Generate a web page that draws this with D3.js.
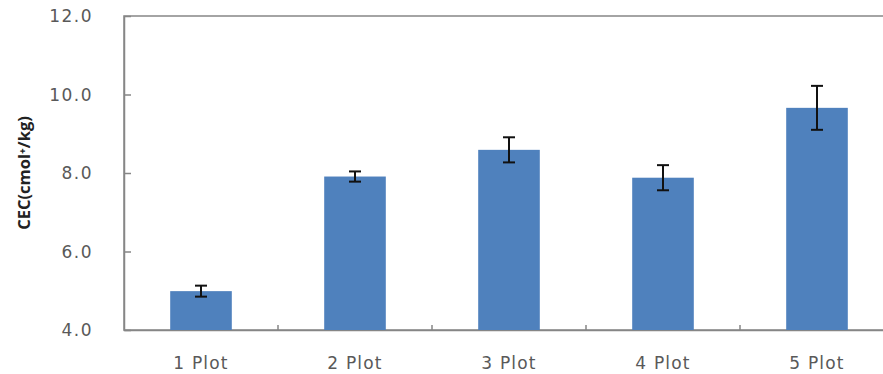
<!DOCTYPE html>
<html><head><meta charset="utf-8">
<script src="https://cdn.jsdelivr.net/npm/d3@7/dist/d3.min.js"></script>
<style>body{margin:0;background:#fff}</style>
</head><body>
<svg id="c" width="883" height="374"></svg>
<script>
const categories = ["1 Plot","2 Plot","3 Plot","4 Plot","5 Plot"];
const values = [4.99, 7.91, 8.59, 7.88, 9.66];
const errors = [0.14, 0.13, 0.32, 0.32, 0.56];
const yTicks = [4, 6, 8, 10, 12];

const svg = d3.select("#c");
const L = 124, R = 894, T = 16, B = 330;
const x = d3.scaleBand().domain(categories).range([L, R]).paddingInner(0.6).paddingOuter(0.3);
const y = d3.scaleLinear().domain([4, 12]).range([B, T]);
const axisColor = "#868686";
const labelFont = "Verdana, 'DejaVu Sans', sans-serif";

// plot border
svg.append("rect").attr("x", L).attr("y", T).attr("width", R - L).attr("height", B - T)
  .attr("fill", "none").attr("stroke", axisColor).attr("stroke-width", 1.5);

// y axis
const ya = svg.append("g").attr("transform", `translate(${L},0)`)
  .call(d3.axisRight(y).tickValues(yTicks).tickSize(7).tickFormat(d3.format(".1f")));
ya.select(".domain").attr("stroke", axisColor).attr("stroke-width", 1.5);
ya.selectAll(".tick line").attr("stroke", axisColor).attr("stroke-width", 1.5);
ya.selectAll(".tick text").attr("x", -31).attr("text-anchor", "end")
  .attr("fill", "#595959").attr("font-family", labelFont)
  .attr("font-size", 17).attr("letter-spacing", 1.5).attr("dy", "0.35em");
ya.selectAll(".tick").filter(d => d === 4 || d === 12).select("line").remove();

// x axis
const xa = svg.append("g").attr("transform", `translate(0,${B})`)
  .call(d3.axisBottom(x).tickSize(0).tickPadding(27));
xa.select(".domain").attr("stroke", axisColor).attr("stroke-width", 1.5);
xa.selectAll(".tick text").attr("fill", "#595959")
  .attr("font-family", labelFont).attr("font-size", 17).attr("letter-spacing", 1.2)
  .attr("dy", "0.71em");
// category separators (ticks pointing inward)
const seps = d3.range(1, categories.length).map(i => L + (R - L) * i / categories.length);
svg.append("g").selectAll("line").data(seps).join("line")
  .attr("x1", d => d).attr("x2", d => d).attr("y1", B).attr("y2", B - 5)
  .attr("stroke", axisColor).attr("stroke-width", 1.5);

// bars
svg.append("g").selectAll("rect").data(categories).join("rect")
  .attr("x", d => x(d)).attr("width", x.bandwidth())
  .attr("y", (d, i) => y(values[i])).attr("height", (d, i) => B - y(values[i]))
  .attr("fill", "#4f81bd");

// error bars
const eg = svg.append("g").attr("stroke", "#111").attr("stroke-width", 2);
categories.forEach((c, i) => {
  const cx = x(c) + x.bandwidth() / 2;
  const y1 = y(values[i] + errors[i]), y2 = y(values[i] - errors[i]);
  eg.append("line").attr("x1", cx).attr("x2", cx).attr("y1", y1).attr("y2", y2);
  eg.append("line").attr("x1", cx - 6).attr("x2", cx + 6).attr("y1", y1).attr("y2", y1);
  eg.append("line").attr("x1", cx - 6).attr("x2", cx + 6).attr("y1", y2).attr("y2", y2);
});

// y title
svg.append("text").attr("transform", `translate(24,${(T + B) / 2}) rotate(-90)`)
  .attr("text-anchor", "middle").attr("dy", "0.35em")
  .attr("font-family", "'Open Sans', sans-serif")
  .attr("font-weight", "bold").attr("font-size", 16.5).attr("fill", "#222")
  .text("CEC(cmol⁺/kg)");
</script>
</body></html>
